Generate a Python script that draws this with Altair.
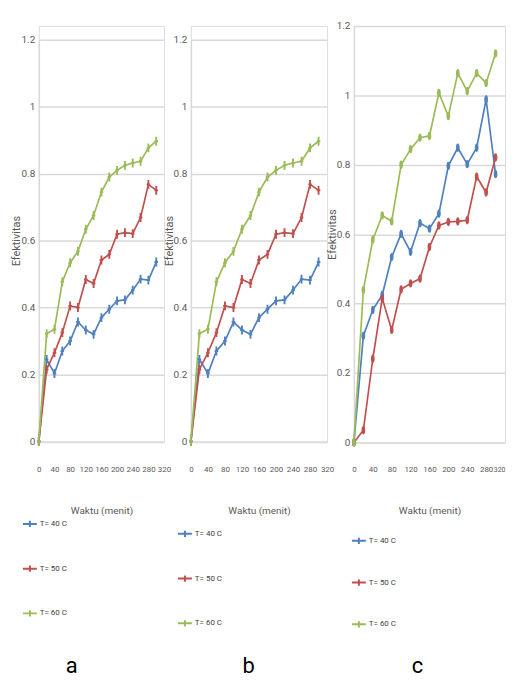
import altair as alt
import pandas as pd

times = [0, 20, 40, 60, 80, 100, 120, 140, 160, 180, 200, 220, 240, 260, 280, 300]

# panel a (and b, identical curves)
ab_40 = [0, 0.245, 0.203, 0.27, 0.30, 0.357, 0.333, 0.32, 0.37, 0.395, 0.42, 0.423, 0.452, 0.485, 0.482, 0.536]
ab_50 = [0, 0.215, 0.265, 0.325, 0.405, 0.40, 0.484, 0.472, 0.542, 0.559, 0.619, 0.624, 0.621, 0.669, 0.768, 0.75]
ab_60 = [0, 0.322, 0.335, 0.477, 0.534, 0.568, 0.634, 0.675, 0.745, 0.79, 0.81, 0.825, 0.832, 0.837, 0.877, 0.897]

# panel c
c_40 = [0, 0.307, 0.382, 0.425, 0.534, 0.601, 0.549, 0.632, 0.616, 0.659, 0.797, 0.849, 0.802, 0.849, 0.988, 0.773]
c_50 = [0, 0.035, 0.241, 0.415, 0.324, 0.441, 0.458, 0.472, 0.563, 0.625, 0.635, 0.637, 0.64, 0.766, 0.72, 0.821]
c_60 = [0, 0.439, 0.584, 0.654, 0.637, 0.80, 0.845, 0.878, 0.883, 1.007, 0.94, 1.064, 1.012, 1.064, 1.035, 1.121]

series_names = ["T= 40 C", "T= 50 C", "T= 60 C"]
series_colors = ["#4F81BD", "#C0504D", "#9BBB59"]
x_ticks = [0, 40, 80, 120, 160, 200, 240, 280, 320]
y_ticks = [0, 0.2, 0.4, 0.6, 0.8, 1.0, 1.2]
panel_letters = ["a", "b", "c"]

FONT = "Roboto, sans-serif"
TXT = "#595959"
H = 419


def long_df(s40, s50, s60):
    rows = []
    for name, vals in zip(series_names, [s40, s50, s60]):
        for t, v in zip(times, vals):
            rows.append({"t": t, "v": v, "s": name})
    return pd.DataFrame(rows)


def panel(df, width, y_range, legend_x, legend_y, row_pad, letter, letter_x,
          marker_path, marker_filled, legend_symbol, last_right=False):
    color_scale = alt.Scale(domain=series_names, range=series_colors)
    xaxis = dict(values=x_ticks, title="Waktu (menit)", grid=False, domain=False,
                 ticks=False, labelPadding=23, labelFontSize=8, labelColor=TXT,
                 labelFont=FONT, labelFlush=False, labelOverlap=False,
                 titleFont=FONT, titleFontSize=10, titleFontWeight="normal",
                 titleColor=TXT, titleY=69, titleBaseline="middle")
    if last_right:
        xaxis["labelAlign"] = {"condition": {"test": "datum.value >= 320", "value": "right"},
                               "value": "center"}
        xaxis["labelFontSize"] = {"condition": {"test": "datum.value >= 320", "value": 7},
                                  "value": 8}
    x = alt.X("t:Q", scale=alt.Scale(domain=[0, 320], nice=False, zero=False),
              axis=alt.Axis(**xaxis))
    y = alt.Y(
        "v:Q",
        scale=alt.Scale(domain=[0, 1.2], range=y_range, nice=False),
        axis=alt.Axis(values=y_ticks, format="~g", title="Efektivitas", grid=True,
                      gridColor="#d9d9d9", gridWidth=1.5, domain=True,
                      domainColor="#d9d9d9", domainWidth=1.5, ticks=False,
                      labelPadding=4, labelFontSize=10, labelColor=TXT, labelFont=FONT,
                      titleFont=FONT, titleFontSize=11, titleFontWeight="normal",
                      titleColor=TXT, titleY=(y_range[0] + y_range[1]) / 2,
                      titleX=-22, titleBaseline="middle", titleAngle=270),
    )
    base = alt.Chart(df).encode(x=x, y=y)
    line = base.mark_line(strokeWidth=1.7).encode(
        color=alt.Color(
            "s:N", scale=color_scale,
            legend=alt.Legend(orient="none", legendX=legend_x, legendY=legend_y,
                              title=None, direction="vertical",
                              symbolType=legend_symbol, symbolSize=196,
                              symbolStrokeWidth=2, labelFont=FONT, labelFontSize=8,
                              labelColor="#404040", rowPadding=row_pad, labelOffset=2),
        )
    )
    if marker_filled:
        pts = base.mark_point(shape=marker_path, filled=True, size=70, opacity=1).encode(
            fill=alt.Fill("s:N", scale=color_scale, legend=None))
    else:
        pts = base.mark_point(shape=marker_path, filled=False, size=80, strokeWidth=1.9,
                              opacity=1).encode(
            stroke=alt.Stroke("s:N", scale=color_scale, legend=None))
    lab = alt.Chart(pd.DataFrame({"label": [letter]})).mark_text(
        font=FONT, fontSize=22, color="#000000", align="center", baseline="middle"
    ).encode(text="label:N", x=alt.value(letter_x), y=alt.value(644))
    return alt.layer(line, pts, lab).properties(width=width, height=H)


plus_path = "M-0.4,0H0.4M0,-1V1"
oval_path = "M0,-1C0.6,-1 0.6,1 0,1C-0.6,1 -0.6,-1 0,-1Z"
leg_sym = "M-1,0H1M0,-0.45V0.45"

df_ab = long_df(ab_40, ab_50, ab_60)
df_c = long_df(c_40, c_50, c_60)

pa = panel(df_ab, 126, [418, 14], -17, 493, 29, panel_letters[0], 33, plus_path, False, leg_sym)
pb = panel(df_ab, 137, [418, 14], -14, 503, 29, panel_letters[1], 58, plus_path, False, leg_sym)
pc = panel(df_c, 152, [419, 0], -3, 510, 26, panel_letters[2], 64, oval_path, True, leg_sym,
           last_right=True)

chart = (
    alt.hconcat(pa, pb, pc, spacing=27, bounds="flush")
    .resolve_scale(color="independent", stroke="independent", fill="independent")
    .resolve_legend(color="independent")
    .properties(padding={"left": 2, "top": 10, "right": 0, "bottom": 0})
    .configure_view(stroke=None)
    .configure(background="white")
)

chart.save("out.html", embed_options={"renderer": "svg", "actions": False})
